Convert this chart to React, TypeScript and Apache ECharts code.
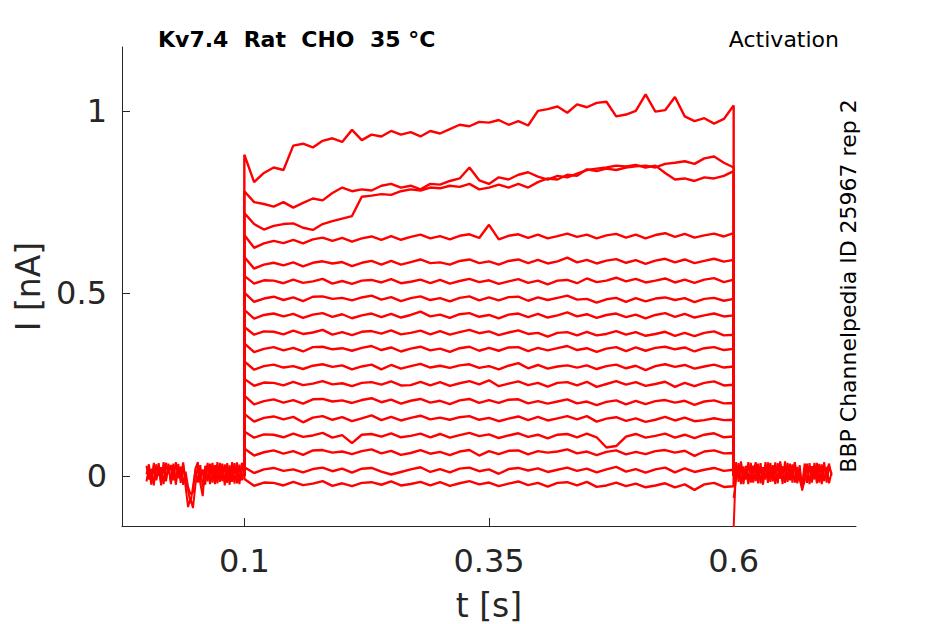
import React, { useEffect, useRef } from "react";
import * as echarts from "echarts";

// time grid of the voltage step (s)
const TIMES = [
  0.1, 0.11, 0.12, 0.13, 0.14, 0.15, 0.16, 0.17, 0.18, 0.19, 0.2, 0.21, 0.22, 0.23, 0.24, 0.25, 0.26,
  0.27, 0.28, 0.29, 0.3, 0.31, 0.32, 0.33, 0.34, 0.35, 0.36, 0.37, 0.38, 0.39, 0.4, 0.41, 0.42, 0.43,
  0.44, 0.45, 0.46, 0.47, 0.48, 0.49, 0.5, 0.51, 0.52, 0.53, 0.54, 0.55, 0.56, 0.57, 0.58, 0.59, 0.6,
];
const PRE_TIMES = [
  0, 0.0025, 0.005, 0.0075, 0.01, 0.0125, 0.015, 0.0175, 0.02, 0.0225, 0.025, 0.0275, 0.03, 0.0325,
  0.035, 0.0375, 0.04, 0.0425, 0.045, 0.0475, 0.05, 0.0525, 0.055, 0.0575, 0.06, 0.0625, 0.065, 0.0675,
  0.07, 0.0725, 0.075, 0.0775, 0.08, 0.0825, 0.085, 0.0875, 0.09, 0.0925, 0.095, 0.0975, 0.1,
];
const POST_TIMES = [
  0.6, 0.6025, 0.605, 0.6075, 0.61, 0.6125, 0.615, 0.6175, 0.62, 0.6225, 0.625, 0.6275, 0.63, 0.6325,
  0.635, 0.6375, 0.64, 0.6425, 0.645, 0.6475, 0.65, 0.6525, 0.655, 0.6575, 0.66, 0.6625, 0.665, 0.6675,
  0.67, 0.6725, 0.675, 0.6775, 0.68, 0.6825, 0.685, 0.6875, 0.69, 0.6925, 0.695, 0.6975, 0.7,
];

// baseline current before / after the step (pA)
const PRE_A = [5, 32, -18, 28, -12, 35, -20, 30, -15, 34, -22, 29, -14, 33, -19, 31, -30, -85, -60, -88, -25, 32, -20, -55, 28, -15, 34, -18, 30, -20, 36, -14, 32, -19, 29, -16, 35, -20, 31, -12, 25];
const PRE_B = [-15, 22, -24, 36, -10, 25, -26, 38, -8, 27, -18, 34, -24, 24, -10, 37, -15, -40, -75, -30, 15, -18, 30, -30, -8, 36, -22, 25, -12, 38, -16, 26, -26, 35, -10, 28, -21, 37, -14, 30, 0];
const PRE_C = [28, -10, 20, -26, 32, 0, 24, -22, 36, 6, 30, -12, 38, -6, 26, -24, 12, -30, -50, -45, 20, 38, -12, 18, -24, 30, 4, 36, -22, 20, -6, 34, -16, 24, -24, 38, 6, 28, -22, 36, 10];
const POST_A = [-140, 38, -16, 32, -22, 28, -12, 36, -18, 30, -20, 35, -14, 38, -19, 26, -15, 37, -16, 30, -22, 40, -12, 34, -18, 36, -15, 30, -40, 22, -19, 35, -14, 28, -20, 33, -15, 38, -18, 28, 5];
const POST_B = [-60, -8, 35, -22, 26, -10, 38, -18, 28, -14, 34, -20, 24, -10, 37, -16, 30, -22, 35, -8, 27, -19, 36, -12, 32, -18, 25, -10, -36, -15, 34, -22, 27, -10, 36, -18, 32, -14, 25, -20, 10];
const POST_C = [-20, 22, 4, 40, -8, 20, -22, 32, 8, 38, -4, 22, -24, 30, 0, 36, -10, 20, -20, 40, 6, 26, -16, 32, 4, 38, -20, 16, -26, 34, 8, 24, -18, 36, 0, 30, -22, 22, 12, 34, 0];

// step currents (pA), one trace per voltage step, top to bottom
const T1 = [880, 805, 830, 845, 838, 905, 910, 900, 918, 925, 915, 948, 920, 935, 930, 945, 935, 942, 930, 945, 938, 950, 962, 958, 970, 968, 975, 962, 972, 960, 1000, 1005, 1012, 995, 1018, 1010, 1022, 1025, 985, 990, 1000, 1045, 998, 1002, 1038, 985, 972, 980, 965, 978, 1015];
const T2 = [780, 750, 745, 738, 750, 735, 748, 760, 755, 775, 790, 780, 785, 782, 795, 800, 790, 795, 785, 800, 798, 808, 815, 845, 810, 800, 818, 812, 825, 832, 820, 812, 822, 818, 828, 838, 842, 845, 850, 848, 852, 845, 850, 830, 812, 815, 808, 818, 815, 822, 835];
const T3 = [720, 690, 675, 685, 690, 692, 680, 674, 690, 698, 705, 712, 765, 768, 772, 770, 780, 785, 782, 790, 788, 795, 792, 800, 785, 790, 798, 790, 800, 790, 805, 815, 812, 825, 822, 840, 835, 842, 838, 845, 848, 850, 845, 855, 858, 862, 855, 870, 875, 858, 845];
const T4 = [660, 625, 637, 644, 638, 647, 637, 648, 653, 644, 652, 642, 651, 656, 647, 657, 647, 655, 661, 651, 657, 648, 658, 662, 652, 688, 648, 658, 662, 652, 661, 651, 657, 664, 655, 661, 651, 659, 663, 653, 661, 651, 660, 665, 655, 663, 653, 659, 664, 656, 665];
const T5 = [600, 568, 579, 584, 577, 585, 574, 584, 588, 582, 586, 575, 584, 589, 579, 589, 579, 586, 593, 583, 585, 579, 589, 593, 583, 588, 579, 589, 593, 583, 592, 582, 588, 598, 585, 592, 582, 590, 594, 584, 591, 581, 590, 595, 585, 593, 583, 589, 595, 587, 592];
const T6 = [548, 527, 536, 535, 528, 538, 529, 533, 540, 527, 534, 526, 535, 537, 530, 539, 528, 532, 538, 528, 537, 527, 534, 540, 531, 536, 526, 533, 539, 529, 535, 525, 535, 537, 528, 541, 531, 535, 543, 533, 540, 530, 535, 541, 530, 538, 529, 538, 542, 531, 538];
const T7 = [502, 477, 486, 491, 482, 489, 479, 491, 492, 485, 488, 481, 489, 494, 483, 490, 479, 487, 492, 482, 487, 478, 488, 492, 481, 489, 481, 490, 491, 480, 489, 482, 488, 494, 483, 485, 475, 484, 488, 477, 487, 478, 486, 489, 482, 487, 476, 485, 488, 480, 485];
const T8 = [455, 431, 441, 445, 437, 444, 433, 442, 446, 436, 443, 432, 440, 445, 435, 444, 434, 441, 450, 437, 442, 433, 443, 446, 436, 441, 432, 442, 445, 435, 444, 434, 440, 448, 437, 443, 433, 441, 445, 435, 442, 432, 441, 446, 436, 444, 434, 440, 445, 437, 440];
const T9 = [408, 387, 396, 395, 388, 398, 389, 393, 400, 387, 394, 386, 395, 397, 390, 399, 388, 392, 398, 388, 397, 387, 394, 400, 391, 396, 386, 393, 399, 389, 392, 382, 392, 394, 385, 395, 385, 389, 397, 387, 394, 384, 389, 395, 384, 392, 383, 392, 396, 385, 387];
const T10 = [363, 339, 348, 353, 344, 351, 341, 353, 354, 347, 350, 343, 351, 356, 345, 352, 341, 349, 354, 344, 349, 340, 350, 354, 343, 351, 343, 352, 353, 342, 351, 344, 350, 356, 345, 350, 340, 349, 353, 342, 352, 343, 351, 354, 347, 352, 341, 350, 353, 345, 348];
const T11 = [314, 291, 301, 305, 297, 301, 293, 302, 306, 299, 303, 292, 300, 305, 292, 304, 294, 301, 307, 297, 302, 296, 303, 306, 296, 301, 292, 302, 309, 295, 304, 294, 300, 303, 297, 303, 293, 301, 305, 295, 302, 290, 301, 306, 299, 304, 294, 300, 305, 297, 300];
const T12 = [266, 247, 256, 255, 248, 258, 249, 253, 260, 251, 254, 246, 255, 257, 250, 259, 248, 249, 258, 248, 257, 247, 254, 260, 251, 262, 246, 253, 259, 249, 255, 245, 255, 257, 248, 258, 244, 252, 260, 250, 257, 247, 252, 258, 244, 255, 246, 255, 259, 248, 250];
const T13 = [220, 196, 205, 210, 201, 208, 198, 210, 211, 204, 207, 200, 208, 213, 202, 209, 198, 206, 211, 201, 206, 197, 207, 211, 200, 208, 200, 209, 210, 199, 205, 198, 204, 210, 199, 204, 194, 203, 207, 196, 206, 197, 205, 208, 201, 206, 195, 204, 207, 199, 200];
const T14 = [170, 149, 159, 163, 155, 162, 147, 160, 164, 154, 161, 150, 158, 166, 153, 162, 152, 159, 165, 155, 160, 154, 161, 164, 154, 159, 150, 157, 163, 153, 162, 152, 158, 164, 155, 164, 149, 157, 161, 151, 158, 148, 154, 162, 152, 160, 150, 153, 158, 153, 154];
const T15 = [122, 105, 114, 113, 106, 116, 107, 111, 118, 105, 112, 90, 113, 115, 108, 117, 106, 110, 116, 106, 115, 105, 112, 118, 109, 114, 104, 111, 117, 107, 113, 103, 113, 115, 106, 116, 106, 78, 82, 108, 115, 105, 110, 116, 105, 113, 104, 113, 117, 106, 108];
const T16 = [75, 56, 65, 70, 61, 68, 58, 70, 71, 64, 67, 60, 68, 73, 62, 69, 58, 63, 71, 61, 66, 57, 67, 71, 56, 68, 60, 69, 70, 59, 68, 64, 67, 73, 62, 67, 57, 66, 70, 59, 66, 60, 68, 71, 64, 69, 55, 67, 70, 62, 63];
const T17 = [24, 8, 18, 22, 14, 18, 10, 19, 23, 13, 20, 9, 20, 22, 12, 4, 11, 18, 24, 11, 19, 10, 20, 23, 13, 18, 6, 19, 22, 15, 21, 11, 17, 23, 14, 20, 10, 18, 25, 12, 19, 9, 18, 23, 10, 21, 11, 17, 22, 14, 17];
const T18 = [-8, -27, -18, -19, -26, -16, -25, -21, -14, -27, -20, -28, -19, -17, -24, -15, -26, -22, -16, -26, -17, -27, -20, -14, -23, -18, -28, -21, -15, -25, -19, -29, -19, -17, -26, -16, -30, -26, -18, -28, -21, -31, -26, -20, -31, -23, -38, -23, -19, -30, -28];

const TRACES = [T1, T2, T3, T4, T5, T6, T7, T8, T9, T10, T11, T12, T13, T14, T15, T16, T17, T18];

const X_TICKS = [0.1, 0.35, 0.6];
const X_TICK_LABELS = ["0.1", "0.35", "0.6"];
const Y_TICKS = [0, 0.5, 1];
const Y_TICK_LABELS = ["0", "0.5", "1"];

const TITLE = "Kv7.4  Rat  CHO  35 °C";
const PROTOCOL = "Activation";
const SOURCE = "BBP Channelpedia ID 25967 rep 2";

const FONT = '"DejaVu Sans", "Liberation Sans", sans-serif';
const RED = "#ff0000";
const AXIS = "#262626";

function pick(ticks: number[], labels: string[]) {
  return (v: number) => {
    const i = ticks.findIndex((t) => Math.abs(t - v) < 1e-9);
    return i >= 0 ? labels[i] : "";
  };
}

function stepData(vals: number[]): [number, number][] {
  const d: [number, number][] = [[TIMES[0], 0]];
  vals.forEach((v, i) => d.push([TIMES[i], v / 1000]));
  d.push([TIMES[TIMES.length - 1], 0]);
  return d;
}

function baseData(times: number[], vals: number[]): [number, number][] {
  return vals.map((v, i) => [times[i], v / 1000]);
}

export default function App() {
  const ref = useRef<HTMLDivElement>(null);

  useEffect(() => {
    if (!ref.current) return;
    const chart = echarts.init(ref.current, null, { renderer: "svg" });

    const lineSeries = (name: string, data: [number, number][], width: number) => ({
      name,
      type: "line",
      data,
      showSymbol: false,
      symbol: "none",
      silent: true,
      lineStyle: { color: RED, width },
      emphasis: { disabled: true },
    });

    const series: any[] = [
      lineSeries("pre A", baseData(PRE_TIMES, PRE_A), 2),
      lineSeries("pre B", baseData(PRE_TIMES, PRE_B), 2),
      lineSeries("pre C", baseData(PRE_TIMES, PRE_C), 2),
      lineSeries("post A", baseData(POST_TIMES, POST_A), 2),
      lineSeries("post B", baseData(POST_TIMES, POST_B), 2),
      lineSeries("post C", baseData(POST_TIMES, POST_C), 2),
      ...TRACES.map((t, i) => lineSeries("step " + (i + 1), stepData(t), 2.4)),
    ];

    chart.setOption({
      animation: false,
      backgroundColor: "#ffffff",
      grid: {
        left: 122,
        right: 89,
        top: 47,
        bottom: 98,
        containLabel: false,
        outerBoundsMode: "none",
      },
      xAxis: {
        type: "value",
        min: -0.025,
        max: 0.725,
        axisLine: { show: true, onZero: false, lineStyle: { color: AXIS, width: 1 } },
        axisTick: { show: true, inside: true, length: 8, customValues: X_TICKS, lineStyle: { color: AXIS, width: 1 } },
        axisLabel: {
          customValues: X_TICKS,
          formatter: pick(X_TICKS, X_TICK_LABELS),
          fontSize: 32,
          color: AXIS,
          fontFamily: FONT,
          margin: 19,
        },
        splitLine: { show: false },
        name: "t [s]",
        nameLocation: "middle",
        nameGap: 63,
        nameTextStyle: { fontSize: 33, color: AXIS, fontFamily: FONT },
      },
      yAxis: {
        type: "value",
        min: -0.137,
        max: 1.175,
        axisLine: { show: true, onZero: false, lineStyle: { color: AXIS, width: 1 } },
        axisTick: { show: true, inside: true, length: 8, customValues: Y_TICKS, lineStyle: { color: AXIS, width: 1 } },
        axisLabel: {
          customValues: Y_TICKS,
          formatter: pick(Y_TICKS, Y_TICK_LABELS),
          fontSize: 32,
          color: AXIS,
          fontFamily: FONT,
          margin: 15,
        },
        splitLine: { show: false },
        name: "I [nA]",
        nameLocation: "middle",
        nameRotate: 90,
        nameGap: 62,
        nameTextStyle: { fontSize: 33, color: AXIS, fontFamily: FONT },
      },
      graphic: [
        {
          type: "text",
          x: 158,
          y: 39,
          style: { text: TITLE, font: "bold 22px " + FONT, fill: "#000000", align: "left", verticalAlign: "middle" },
        },
        {
          type: "text",
          x: 839,
          y: 39,
          style: { text: PROTOCOL, font: "22px " + FONT, fill: "#000000", align: "right", verticalAlign: "middle" },
        },
        {
          type: "text",
          x: 848,
          y: 286,
          rotation: Math.PI / 2,
          style: { text: SOURCE, font: "22px " + FONT, fill: "#000000", align: "center", verticalAlign: "middle" },
        },
      ],
      series,
    });

    return () => chart.dispose();
  }, []);

  return (
    <div
      ref={ref}
      style={{ position: "absolute", left: 0, top: 0, width: 945, height: 624 }}
    />
  );
}
